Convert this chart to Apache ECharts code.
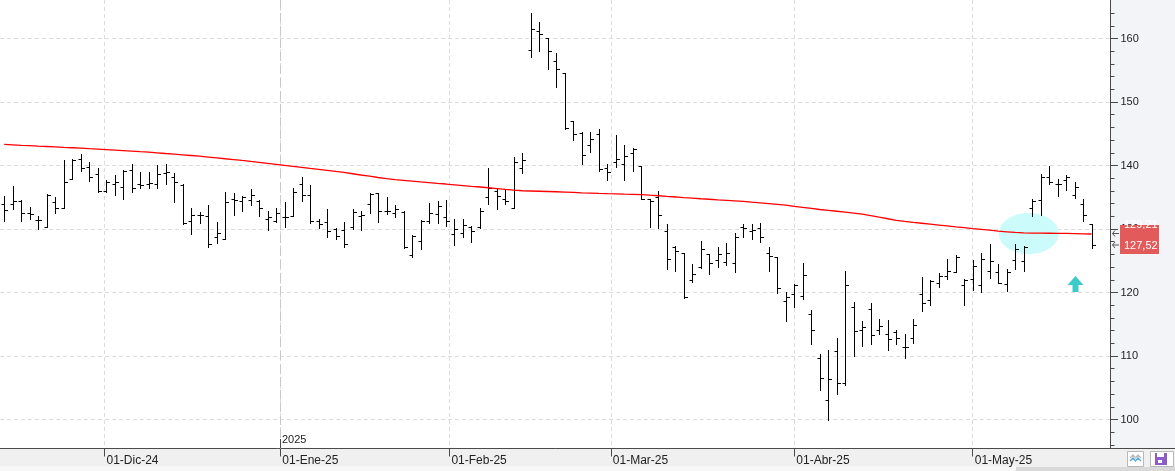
<!DOCTYPE html>
<html>

<head>
    <title></title>
    <meta charset="utf-8">
    <script src="https://cdn.jsdelivr.net/npm/echarts@6/dist/echarts.min.js"></script>
    <style>
        body {
            margin: 0;
            background: #f0f0f0;
        }

        #main {
            width: 1175px;
            height: 471px;
        }
    </style>
</head>

<body>
    <div id="main"></div>
    <script type="text/javascript">
        // ticks of months (bar index) and their labels
        var monthTicks = [11.8, 32.5, 52.4, 71.4, 93, 114];
        var monthLabels = ['01-Dic-24', '01-Ene-25', '01-Feb-25', '01-Mar-25', '01-Abr-25', '01-May-25'];
        var yearTick = 32.5;
        var yearLabel = '2025';

        var priceLabels = [100, 110, 120, 130, 140, 150, 160];
        var priceTicks = [96, 98, 100, 102, 104, 106, 108, 110, 112, 114, 116, 118, 120, 122, 124, 126, 128, 130,
            132, 134, 136, 138, 140, 142, 144, 146, 148, 150, 152, 154, 156, 158, 160, 162, 164];

        // daily bars, 13-Nov-24 .. 21-May-25
        var open = [133.90, 133.90, 134.38, 132.53, 131.38, 130.28, 134.22, 133.27, 137.89, 140.99,
            139.73, 138.63, 135.95, 137.05, 136.58, 139.26, 137.05, 137.16, 137.16, 138.74,
            138.11, 136.90, 131.27, 132.17, 132.01, 128.66, 128.50, 134.80, 134.42, 134.53,
            134.42, 131.50, 131.27, 131.81, 132.01, 137.05, 135.32, 131.27, 131.12, 129.92,
            129.81, 130.24, 132.01, 133.90, 135.59, 132.85, 132.44, 132.69, 125.87, 128.12,
            131.27, 132.33, 131.81, 129.18, 129.39, 130.24, 130.24, 134.96, 136.00, 134.80,
            133.23, 139.68, 158.16, 161.15, 160.00, 156.42, 154.64, 147.02, 145.04, 143.20,
            144.93, 139.53, 140.47, 140.20, 141.89, 139.94, 134.80, 135.05, 129.65, 127.09,
            126.14, 121.94, 123.94, 126.03, 125.09, 124.82, 124.66, 130.24, 129.65, 130.08,
            126.24, 125.51, 118.68, 119.73, 119.46, 116.58, 109.70, 103.04, 110.75, 105.67,
            117.64, 114.06, 117.32, 114.17, 113.54, 113.70, 111.34, 112.76, 119.70, 118.79,
            121.42, 122.57, 123.15, 121.10, 122.05, 121.15, 123.40, 123.15, 121.26, 125.09,
            124.93, 133.23, 134.64, 138.11, 137.16, 137.68, 135.32, 133.90, 130.76];
        var high = [135.16, 136.74, 134.53, 133.43, 132.01, 135.48, 135.05, 140.83, 140.99, 141.78,
            140.52, 139.57, 137.68, 138.47, 139.26, 140.31, 138.90, 138.90, 140.05, 140.20,
            138.74, 137.05, 133.23, 132.69, 133.75, 131.12, 135.84, 135.59, 135.16, 136.22,
            134.53, 132.85, 133.23, 134.27, 136.38, 138.11, 136.90, 131.65, 133.07, 130.08,
            131.12, 133.07, 132.85, 135.59, 135.68, 134.96, 133.75, 132.80, 129.02, 131.38,
            134.11, 134.38, 134.53, 131.50, 131.50, 130.44, 133.23, 139.53, 136.38, 136.22,
            141.26, 141.89, 163.94, 162.52, 160.00, 157.79, 154.64, 147.02, 145.20, 145.20,
            145.72, 140.16, 144.77, 143.20, 142.83, 139.94, 134.80, 135.95, 130.71, 127.34,
            126.24, 124.46, 128.08, 126.03, 127.18, 127.81, 129.29, 130.76, 130.76, 131.02,
            127.18, 125.51, 120.00, 121.31, 124.57, 117.21, 110.39, 110.91, 112.91, 123.35,
            118.52, 115.53, 118.36, 115.79, 115.64, 114.06, 113.43, 115.79, 122.41, 121.94,
            122.99, 125.20, 125.87, 122.20, 125.09, 126.14, 127.56, 124.41, 123.67, 127.56,
            127.29, 134.80, 138.63, 139.89, 137.84, 138.47, 137.32, 134.69, 130.76];
        var low = [131.27, 133.12, 131.27, 131.54, 129.97, 130.28, 132.53, 133.27, 137.84, 139.15,
            137.57, 135.79, 135.79, 135.32, 134.74, 135.84, 136.53, 136.53, 136.53, 137.16,
            134.27, 130.75, 129.18, 130.87, 127.18, 127.81, 128.35, 132.17, 132.80, 133.75,
            132.01, 129.81, 131.12, 130.24, 132.01, 134.42, 130.87, 130.08, 128.76, 128.35,
            127.09, 129.92, 129.81, 132.53, 131.12, 132.33, 131.81, 126.93, 125.61, 126.77,
            130.87, 130.87, 130.44, 127.45, 128.76, 127.97, 130.08, 133.90, 133.07, 133.90,
            133.23, 138.74, 157.01, 158.05, 155.27, 152.38, 145.67, 143.98, 140.31, 142.14,
            139.10, 137.68, 139.78, 137.79, 139.15, 134.69, 130.33, 130.17, 123.62, 123.40,
            119.15, 121.67, 123.78, 122.88, 124.03, 124.30, 123.24, 128.66, 128.50, 127.97,
            123.40, 119.84, 115.53, 117.73, 119.05, 111.81, 104.72, 99.89, 104.09, 105.40,
            110.01, 111.54, 111.86, 113.54, 111.02, 111.86, 109.76, 111.97, 117.01, 118.00,
            120.79, 122.05, 123.15, 117.95, 120.36, 120.09, 122.30, 121.51, 120.25, 123.62,
            123.35, 132.06, 132.17, 137.16, 135.21, 136.11, 134.90, 131.27, 126.93];
        var close = [132.96, 134.42, 132.53, 132.33, 131.38, 135.32, 133.27, 137.42, 140.94, 139.68,
            138.20, 135.95, 137.42, 137.42, 139.15, 136.42, 136.90, 137.26, 138.58, 138.90,
            137.42, 130.87, 132.17, 132.28, 127.56, 129.29, 134.27, 134.53, 134.96, 135.32,
            133.38, 131.81, 132.44, 131.90, 135.84, 135.32, 131.27, 130.76, 129.70, 128.86,
            127.61, 132.69, 132.17, 135.48, 132.85, 132.85, 133.07, 127.09, 128.86, 131.27,
            132.53, 133.64, 131.27, 129.92, 130.60, 129.70, 132.85, 136.38, 135.16, 134.42,
            140.47, 140.94, 161.42, 160.63, 158.00, 155.27, 145.98, 144.93, 141.62, 144.14,
            139.37, 138.90, 140.99, 141.51, 142.57, 134.80, 134.38, 132.17, 125.35, 126.55,
            119.31, 122.88, 126.82, 124.57, 126.03, 126.14, 128.76, 130.08, 129.81, 128.66,
            125.72, 120.63, 119.31, 121.15, 122.72, 114.06, 106.61, 106.30, 105.67, 121.15,
            113.95, 114.49, 113.28, 114.69, 112.65, 112.76, 111.43, 114.85, 118.27, 121.83,
            122.57, 123.35, 125.61, 121.94, 124.14, 125.35, 124.93, 121.57, 123.15, 126.77,
            127.18, 134.42, 138.11, 137.42, 137.01, 138.11, 136.63, 132.17, 127.52];
        // red moving average
        var ma = [143.32, 143.25, 143.18, 143.12, 143.05, 142.99, 142.92, 142.85, 142.79, 142.72, 142.65, 142.59,
            142.51, 142.43, 142.35, 142.27, 142.18, 142.10,
            142.00, 141.89, 141.79, 141.68, 141.57, 141.46,
            141.33, 141.20, 141.06, 140.93, 140.79, 140.66,
            140.50, 140.34, 140.18, 140.02, 139.86, 139.70,
            139.54, 139.39, 139.23, 139.07, 138.90,
            138.70, 138.50, 138.31, 138.11, 137.92, 137.77,
            137.66, 137.54, 137.42, 137.31, 137.19, 137.08,
            136.96, 136.84, 136.72, 136.61, 136.49, 136.37,
            136.24, 136.12, 136.02, 135.98, 135.94, 135.90,
            135.86, 135.81, 135.76, 135.70, 135.65, 135.60,
            135.56, 135.53, 135.49, 135.46, 135.42, 135.32,
            135.23, 135.13, 135.04, 134.94, 134.85, 134.76,
            134.68, 134.59, 134.51, 134.43, 134.34, 134.22,
            134.11, 134.00, 133.89, 133.76, 133.57, 133.40,
            133.24, 133.07, 132.93, 132.79, 132.65, 132.51,
            132.34, 132.10, 131.85, 131.61, 131.37, 131.19,
            131.04, 130.90, 130.76, 130.62, 130.48, 130.34,
            130.21, 130.07, 129.94, 129.81, 129.67, 129.56,
            129.45, 129.38, 129.36, 129.35, 129.33, 129.31,
            129.30, 129.27, 129.24, 129.21];
        var lastClose = '127,52';
        var lastMa = '129,21';
        // highlighted zone: [bar index, price]
        var zone = [[120.6, 129.29]];

        var font = '"Liberation Sans", Arial, sans-serif';

        var bars = [];
        var maLine = [];
        for (var i = 0; i < close.length; i++) {
            bars.push([i, open[i], close[i], low[i], high[i]]);
            maLine.push([i, ma[i]]);
        }

        function renderBar(params, api) {
            var x = api.value(0);
            var o = api.coord([x, api.value(1)]);
            var c = api.coord([x, api.value(2)]);
            var l = api.coord([x, api.value(3)]);
            var h = api.coord([x, api.value(4)]);
            var px = Math.round(o[0]) + 0.5;
            var st = { stroke: '#000', lineWidth: 1 };
            return {
                type: 'group',
                children: [
                    { type: 'line', shape: { x1: px, y1: Math.round(h[1]), x2: px, y2: Math.round(l[1]) + 1 }, style: st },
                    { type: 'line', shape: { x1: px - 3, y1: Math.round(o[1]) + 0.5, x2: px, y2: Math.round(o[1]) + 0.5 }, style: st },
                    { type: 'line', shape: { x1: px, y1: Math.round(c[1]) + 0.5, x2: px + 3.5, y2: Math.round(c[1]) + 0.5 }, style: st }
                ]
            };
        }

        function renderZone(params, api) {
            var p = api.coord([api.value(0), api.value(1)]);
            return { type: 'ellipse', shape: { cx: p[0], cy: p[1], rx: 30, ry: 20.5 }, style: { fill: '#ccfbfb' } };
        }

        // horizontal grid lines and the darker year line
        function renderGrid(params, api) {
            var v = api.value(0);
            var st = { stroke: '#dcdcdc', lineWidth: 1, lineDash: [4, 3] };
            if (api.value(1) === 1) {
                var top = api.coord([v, 166.06]);
                var x = Math.round(top[0]) + 0.5;
                return { type: 'line', shape: { x1: x, y1: 0, x2: x, y2: api.coord([v, 95.43])[1] }, style: { stroke: '#c8c8c8', lineWidth: 1, lineDash: [9, 4] } };
            }
            var a = api.coord([-0.5, v]);
            var b = api.coord([130.22, v]);
            var y = Math.round(a[1]) + 0.5;
            return { type: 'line', shape: { x1: a[0], y1: y, x2: b[0], y2: y }, style: st };
        }

        // longer ticks at the labelled prices
        function renderMajorTick(params, api) {
            var p = api.coord([api.value(0), api.value(1)]);
            var y = Math.round(p[1]) + 0.5;
            return { type: 'line', shape: { x1: Math.round(p[0]), y1: y, x2: Math.round(p[0]) + 7, y2: y }, style: { stroke: '#4a4a4a', lineWidth: 1 } };
        }

        var majorTicks = priceLabels.map(function (v) { return [130.22, v]; });
        var gridLines = priceLabels.map(function (v) { return [v, 0]; });
        gridLines.push([yearTick, 1]);

        // 基于准备好的dom，初始化echarts实例
        var myChart = echarts.init(document.getElementById('main'));
        var option = {
            backgroundColor: '#f0f0f0',
            animation: false,
            grid: { left: 0, right: 64.5, top: 0, bottom: 22.5, show: true, backgroundColor: '#fff', borderWidth: 0 },
            xAxis: {
                type: 'value',
                min: -0.5,
                max: 130.22,
                axisLine: { onZero: false, lineStyle: { color: '#4a4a4a' } },
                axisTick: { customValues: monthTicks, length: 8, lineStyle: { color: '#4a4a4a' } },
                axisLabel: {
                    customValues: monthTicks,
                    formatter: function (v) {
                        var k = monthTicks.indexOf(v);
                        return k < 0 ? '' : monthLabels[k];
                    },
                    align: 'left', margin: 6, padding: [0, 0, 0, 2],
                    color: '#222', fontSize: 12, fontFamily: font
                },
                splitLine: { show: true, lineStyle: { color: '#dcdcdc', type: [4, 3] } }
            },
            yAxis: {
                type: 'value',
                position: 'right',
                min: 95.43,
                max: 166.06,
                axisLine: { show: true, onZero: false, lineStyle: { color: '#4a4a4a' } },
                axisTick: { show: true, customValues: priceTicks, length: 4, lineStyle: { color: '#4a4a4a' } },
                axisLabel: { customValues: priceLabels, margin: 10, color: '#222', fontSize: 11, fontFamily: font },
                splitLine: { show: false }
            },
            series: [{
                type: 'custom',
                renderItem: renderGrid,
                data: gridLines,
                encode: { x: -1, y: -1 },
                clip: false,
                silent: true,
                z: 1
            }, {
                type: 'custom',
                renderItem: renderZone,
                data: zone,
                silent: true,
                z: 2
            }, {
                type: 'custom',
                renderItem: renderBar,
                encode: { x: 0, y: [1, 2, 3, 4] },
                data: bars,
                z: 3
            }, {
                type: 'line',
                data: maLine,
                showSymbol: false,
                lineStyle: { color: '#ff0000', width: 1.3 },
                z: 4
            }, {
                type: 'custom',
                renderItem: renderMajorTick,
                data: majorTicks,
                clip: false,
                silent: true,
                z: 5
            }],
            graphic: [
                // right price panel
                { type: 'rect', z: -10, shape: { x: 1111, y: 0, width: 64, height: 448 }, style: { fill: '#f3f4f8' } },
                { type: 'line', z: 10, shape: { x1: 1110, y1: 448.5, x2: 1175, y2: 448.5 }, style: { stroke: '#4a4a4a', lineWidth: 1 } },
                { type: 'rect', z: -10, shape: { x: 0, y: 466, width: 1016, height: 5 }, style: { fill: '#f7f7f7' } },
                { type: 'rect', z: -10, shape: { x: 1016, y: 467, width: 159, height: 4 }, style: { fill: '#d9d9d9' } },
                {
                    type: 'polygon', z: 5,
                    shape: { points: [[1075.5, 276], [1083.5, 285], [1078.5, 285], [1078.5, 292], [1072.5, 292], [1072.5, 285], [1067.5, 285]] },
                    style: { fill: '#3ccaca' }
                },
                // year mark
                { type: 'line', z: 10, shape: { x1: 280.5, y1: 439, x2: 280.5, y2: 448 }, style: { stroke: '#4a4a4a', lineWidth: 1 } },
                { type: 'text', z: 10, x: 282, y: 440, style: { text: yearLabel, fill: '#222', font: '11px ' + font, verticalAlign: 'middle' } },
                // last price labels
                { type: 'rect', z: 10, shape: { x: 1120, y: 225, width: 39, height: 29 }, style: { fill: '#e35a5a' } },
                { type: 'text', z: 11, x: 1124, y: 224.5, style: { text: lastMa, fill: '#fff', font: '11px ' + font, verticalAlign: 'middle' } },
                { type: 'rect', z: 12, shape: { x: 1120, y: 229, width: 39, height: 9 }, style: { fill: '#e35a5a' } },
                { type: 'text', z: 13, x: 1124, y: 245.5, style: { text: lastClose, fill: '#fff', font: '11px ' + font, verticalAlign: 'middle' } },
                { type: 'polyline', z: 10, shape: { points: [[1115, 230.5], [1112.5, 233.5], [1115, 236.5]] }, style: { stroke: '#555', lineWidth: 1, fill: null } },
                { type: 'line', z: 10, shape: { x1: 1112.5, y1: 233.5, x2: 1119, y2: 233.5 }, style: { stroke: '#555', lineWidth: 1 } },
                { type: 'polyline', z: 10, shape: { points: [[1115, 242], [1112.5, 245], [1115, 248]] }, style: { stroke: '#555', lineWidth: 1, fill: null } },
                { type: 'line', z: 10, shape: { x1: 1112.5, y1: 245, x2: 1119, y2: 245 }, style: { stroke: '#555', lineWidth: 1 } },
                // toolbar icons
                { type: 'rect', z: 10, shape: { x: 1127.5, y: 451.5, width: 16, height: 15 }, style: { fill: '#fff', stroke: '#b8b8b8', lineWidth: 1 } },
                { type: 'polyline', z: 11, shape: { points: [[1130, 458], [1133, 455], [1135.5, 458], [1138, 455], [1141, 458]] }, style: { stroke: '#bbbbbb', lineWidth: 1.3, fill: null } },
                { type: 'polyline', z: 11, shape: { points: [[1130, 461], [1133, 458], [1135.5, 461], [1138, 458], [1141, 461]] }, style: { stroke: '#5aa9e0', lineWidth: 1.3, fill: null } },
                { type: 'rect', z: 10, shape: { x: 1150.5, y: 451.5, width: 23, height: 15 }, style: { fill: '#fff', stroke: '#b8b8b8', lineWidth: 1 } },
                { type: 'rect', z: 11, shape: { x: 1155, y: 453, width: 12, height: 12 }, style: { fill: '#8c5cc9' } },
                { type: 'rect', z: 12, shape: { x: 1157, y: 453, width: 7, height: 4 }, style: { fill: '#fff' } },
                { type: 'rect', z: 12, shape: { x: 1158, y: 460, width: 4, height: 3 }, style: { fill: '#fff' } }
            ]
        };
        // 使用刚指定的配置项和数据显示图表。
        myChart.setOption(option);
    </script>
</body>

</html>
